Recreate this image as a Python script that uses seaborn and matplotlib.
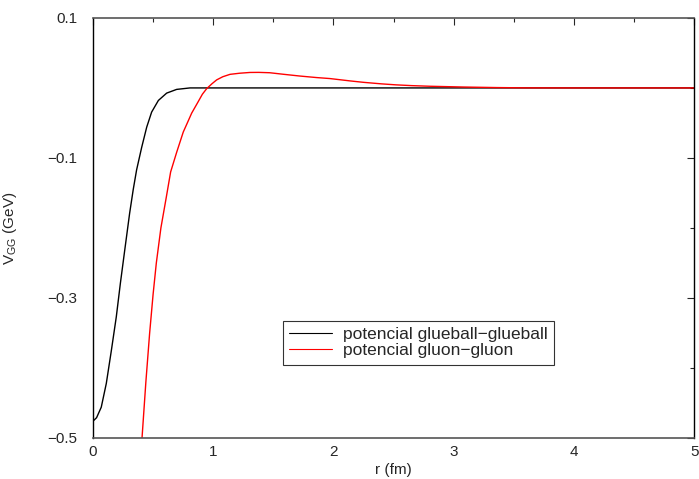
import numpy as np
import pandas as pd
import matplotlib as mpl
mpl.use('Agg')
import matplotlib.pyplot as plt
from matplotlib.ticker import MultipleLocator, FixedLocator
import seaborn as sns

# values
r_gg = [0.0, 0.03, 0.069, 0.111, 0.153, 0.194, 0.228, 0.264, 0.305, 0.335, 0.363,
        0.405, 0.447, 0.488, 0.544, 0.613, 0.696, 0.807, 1.0, 2.0, 3.0, 4.0, 5.0]
v_gg = [-0.476, -0.471, -0.456, -0.422, -0.375, -0.327, -0.279, -0.232, -0.179, -0.145, -0.117,
        -0.085, -0.056, -0.0345, -0.0179, -0.0074, -0.0021, 0.0, 0.0, 0.0, 0.0, 0.0, 0.0]

r_gl = [0.39, 0.408, 0.44, 0.471, 0.50, 0.527, 0.565, 0.610, 0.646, 0.696, 0.751,
        0.790, 0.821, 0.874, 0.910, 0.946, 0.99, 1.029, 1.08, 1.14, 1.22, 1.306,
        1.38, 1.47, 1.584, 1.72, 1.86, 1.97, 2.14, 2.25, 2.40, 2.52, 2.65, 2.80,
        3.08, 3.36, 3.6, 4.0, 5.0]
v_gl = [-0.545, -0.500, -0.420, -0.351, -0.295, -0.250, -0.200, -0.156, -0.120, -0.092, -0.063,
        -0.048, -0.036, -0.020, -0.009, -0.001, 0.006, 0.0115, 0.016, 0.0194, 0.021, 0.0221,
        0.0222, 0.0217, 0.0195, 0.017, 0.0148, 0.0134, 0.010, 0.0080, 0.0058, 0.0044, 0.0033, 0.0024,
        0.0013, 0.0005, 0.0001, 0.0, 0.0]

lab_gg = 'potencial glueball\u2212glueball'
lab_gl = 'potencial gluon\u2212gluon'

df = pd.concat([
    pd.DataFrame({'r': r_gg, 'V': v_gg, 'curve': lab_gg}),
    pd.DataFrame({'r': r_gl, 'V': v_gl, 'curve': lab_gl}),
])

sns.set_style('white')
plt.rcParams['font.family'] = ['Liberation Sans', 'DejaVu Sans']

fig = plt.figure(figsize=(6.99, 4.79), dpi=100)
ax = fig.add_axes([0.133, 0.0856, 0.860, 0.877])

sns.lineplot(data=df, x='r', y='V', hue='curve', sort=False, estimator=None,
             palette={lab_gg: 'black', lab_gl: 'red'}, linewidth=1.0, ax=ax)

ax.set_xlim(0, 5)
ax.set_ylim(-0.5, 0.1)
ax.xaxis.set_major_locator(MultipleLocator(1))
ax.xaxis.set_minor_locator(MultipleLocator(0.5))
ax.yaxis.set_major_locator(FixedLocator([-0.5, -0.3, -0.1, 0.1]))
ax.yaxis.set_minor_locator(FixedLocator([-0.4, -0.2, 0.0]))
ax.set_yticklabels(['\u22120.5', '\u22120.3', '\u22120.1', '0.1'])
ax.tick_params(which='both', direction='in', top=True, right=True, labelsize=11, width=0.8)
ax.tick_params(which='major', length=5)
ax.tick_params(which='minor', length=3)
ax.tick_params(axis='x', which='major', pad=5)
ax.tick_params(axis='y', which='major', pad=11)

for side in ['left', 'right']:
    ax.spines[side].set_color('black')
    ax.spines[side].set_linewidth(1.0)
for side in ['top', 'bottom']:
    ax.spines[side].set_color('#555555')
    ax.spines[side].set_linewidth(1.2)

ax.set_xlabel('r (fm)', fontsize=11, labelpad=3)
ax.set_ylabel('V$_{\\mathregular{GG}}$ (GeV)', fontsize=11)
ax.yaxis.set_label_coords(-0.123, 0.5)

leg = ax.legend(loc='upper left', bbox_to_anchor=(0.316, 0.278), frameon=True,
                fontsize=12.5, handlelength=2.5, borderpad=0.35, labelspacing=0.05,
                handletextpad=0.6, borderaxespad=0.0, fancybox=False, title=None)
leg.get_frame().set_edgecolor('black')
leg.get_frame().set_linewidth(0.8)
for h in leg.get_lines():
    h.set_linewidth(0.8)

fig.savefig('out.png', dpi=100)
